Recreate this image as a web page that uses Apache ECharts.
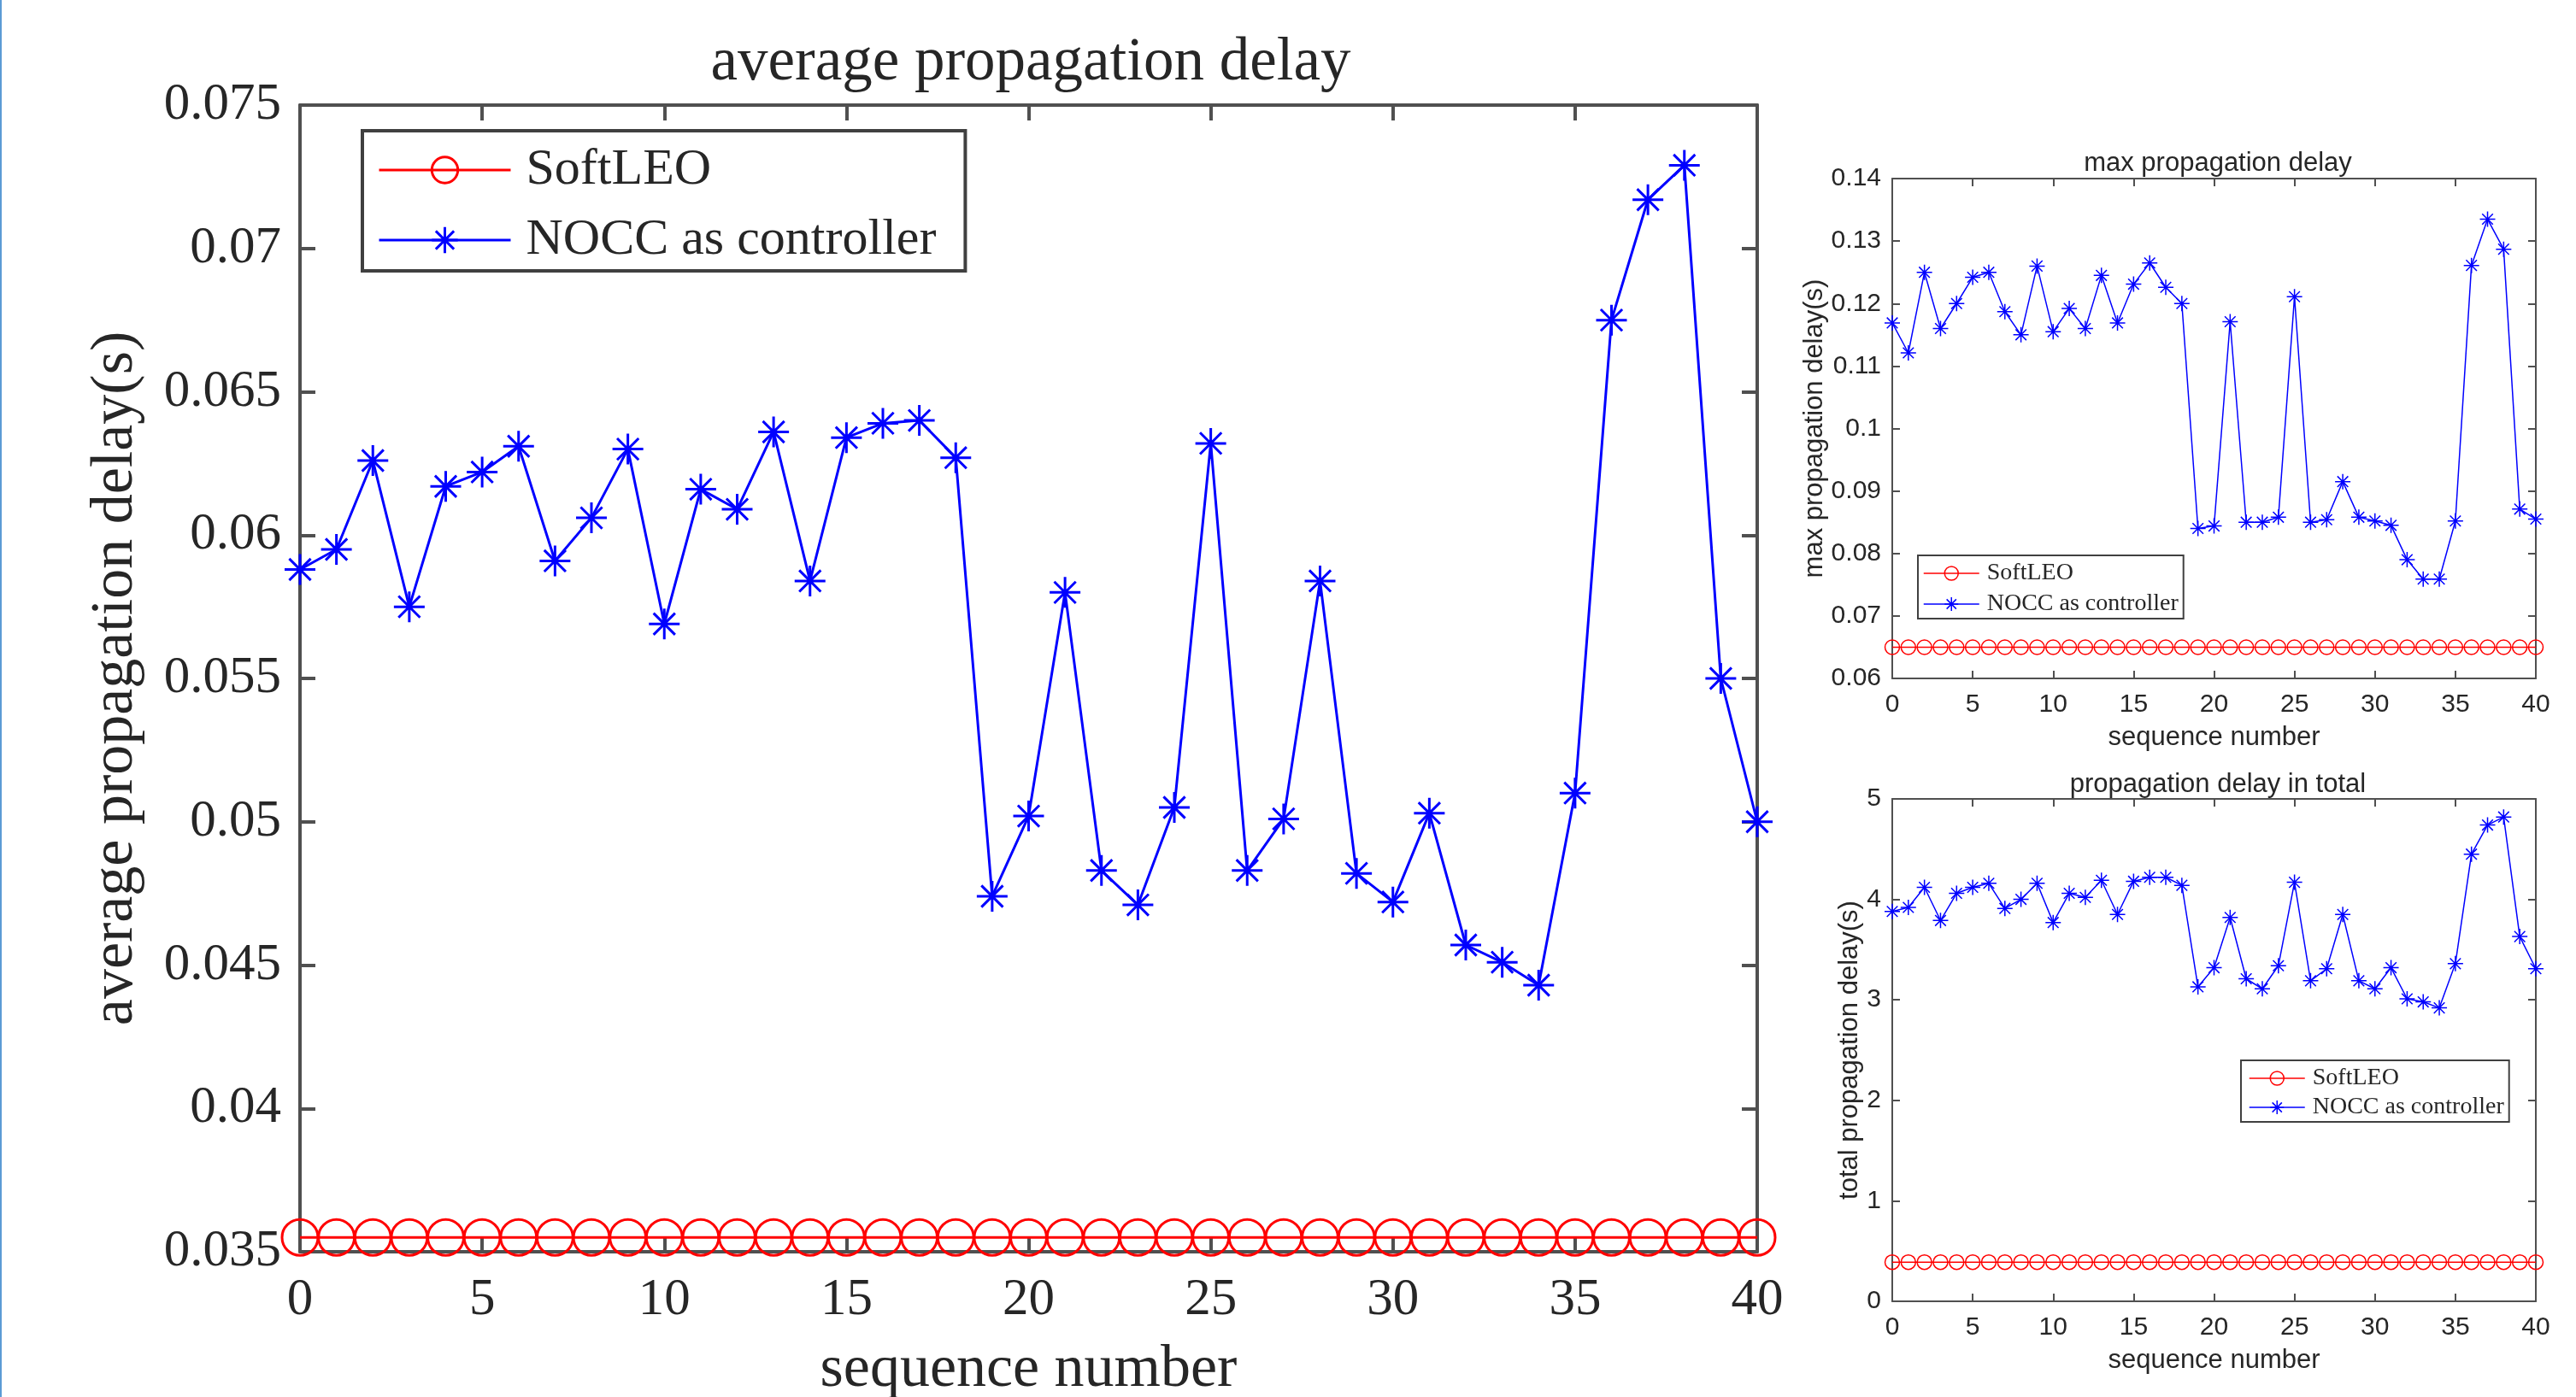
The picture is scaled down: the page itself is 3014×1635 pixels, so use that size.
<!DOCTYPE html>
<html>
<head>
<meta charset="utf-8">
<title>propagation delay</title>
<script src="https://cdn.jsdelivr.net/npm/echarts@6/dist/echarts.min.js"></script>
<style>
html, body { margin: 0; padding: 0; background: #fff; }
#main { position: absolute; left: 0; top: 0; width: 3014px; height: 1635px; }
#edge { position: absolute; left: 0; top: 0; width: 2px; height: 1635px; background: #5b9bd5; }
</style>
</head>
<body>
<div id="main"></div>
<div id="edge"></div>
<script>
// sequence numbers (x axis of all three plots)
var seq = [0, 1, 2, 3, 4, 5, 6, 7, 8, 9, 10, 11, 12, 13, 14, 15, 16, 17, 18, 19, 20,
  21, 22, 23, 24, 25, 26, 27, 28, 29, 30, 31, 32, 33, 34, 35, 36, 37, 38, 39, 40];

// average propagation delay (big plot)
var avgNocc = [0.0588, 0.0595, 0.0626, 0.0575, 0.0617, 0.0622, 0.0631, 0.0591, 0.0606, 0.0630,
  0.0569, 0.0616, 0.0609, 0.0636, 0.0584, 0.0634, 0.0639, 0.0640, 0.0627, 0.0474,
  0.0502, 0.0580, 0.0483, 0.0471, 0.0505, 0.0632, 0.0483, 0.0501, 0.0584, 0.0482,
  0.0472, 0.0503, 0.0457, 0.0451, 0.0443, 0.0510, 0.0675, 0.0717, 0.0729, 0.0550, 0.0500];
var avgSoft = [0.0355, 0.0355, 0.0355, 0.0355, 0.0355, 0.0355, 0.0355, 0.0355, 0.0355, 0.0355,
  0.0355, 0.0355, 0.0355, 0.0355, 0.0355, 0.0355, 0.0355, 0.0355, 0.0355, 0.0355,
  0.0355, 0.0355, 0.0355, 0.0355, 0.0355, 0.0355, 0.0355, 0.0355, 0.0355, 0.0355,
  0.0355, 0.0355, 0.0355, 0.0355, 0.0355, 0.0355, 0.0355, 0.0355, 0.0355, 0.0355, 0.0355];

// max propagation delay (top right)
var maxNocc = [0.1169, 0.1121, 0.1250, 0.1160, 0.1200, 0.1242, 0.1250, 0.1187, 0.1150, 0.1260,
  0.1155, 0.1192, 0.1160, 0.1245, 0.1169, 0.1231, 0.1265, 0.1226, 0.1200, 0.0840,
  0.0844, 0.1171, 0.0850, 0.0850, 0.0858, 0.1211, 0.0850, 0.0854, 0.0915, 0.0858,
  0.0852, 0.0845, 0.0790, 0.0759, 0.0759, 0.0852, 0.1261, 0.1335, 0.1287, 0.0871, 0.0855];
var maxSoft = [0.065, 0.065, 0.065, 0.065, 0.065, 0.065, 0.065, 0.065, 0.065, 0.065,
  0.065, 0.065, 0.065, 0.065, 0.065, 0.065, 0.065, 0.065, 0.065, 0.065,
  0.065, 0.065, 0.065, 0.065, 0.065, 0.065, 0.065, 0.065, 0.065, 0.065,
  0.065, 0.065, 0.065, 0.065, 0.065, 0.065, 0.065, 0.065, 0.065, 0.065, 0.065];

// propagation delay in total (bottom right)
var totalNocc = [3.88, 3.92, 4.12, 3.79, 4.06, 4.12, 4.16, 3.91, 4.00, 4.16,
  3.77, 4.06, 4.02, 4.19, 3.85, 4.18, 4.22, 4.22, 4.14, 3.13,
  3.32, 3.82, 3.21, 3.11, 3.34, 4.17, 3.19, 3.31, 3.85, 3.19,
  3.11, 3.32, 3.01, 2.98, 2.92, 3.36, 4.45, 4.74, 4.82, 3.63, 3.31];
var totalSoft = [0.39, 0.39, 0.39, 0.39, 0.39, 0.39, 0.39, 0.39, 0.39, 0.39,
  0.39, 0.39, 0.39, 0.39, 0.39, 0.39, 0.39, 0.39, 0.39, 0.39,
  0.39, 0.39, 0.39, 0.39, 0.39, 0.39, 0.39, 0.39, 0.39, 0.39,
  0.39, 0.39, 0.39, 0.39, 0.39, 0.39, 0.39, 0.39, 0.39, 0.39, 0.39];

var serif = 'Liberation Serif';
var sans = 'Liberation Sans';
var axisGray = '#505050';
var textGray = '#262626';
// matlab style '*' marker
var star = 'path://M0,50 L100,50 M50,0 L50,100 M15,15 L85,85 M85,15 L15,85';

function pairs(ys) {
  return seq.map(function (x, i) { return [x, ys[i]]; });
}
function numFmt(v) {
  return String(parseFloat(v.toFixed(4)));
}

// bottom + top x axes, left + right y axes for one boxed plot
function boxAxes(g, o) {
  var line = { show: true, onZero: false, lineStyle: { color: axisGray, width: o.lw } };
  var tick = { show: true, inside: true, length: o.tick, lineStyle: { color: axisGray, width: o.lw } };
  var x = {
    gridIndex: g, type: 'value', min: 0, max: 40, interval: 5,
    axisLine: line, axisTick: tick, splitLine: { show: false }
  };
  var y = {
    gridIndex: g, type: 'value', min: o.ymin, max: o.ymax, interval: o.yint,
    axisLine: line, axisTick: tick, splitLine: { show: false }
  };
  var xb = Object.assign({}, x, {
    position: 'bottom',
    axisLabel: { color: textGray, fontFamily: o.font, fontSize: o.tickSize, margin: o.xMargin },
    name: 'sequence number', nameLocation: 'middle', nameGap: o.xNameGap,
    nameTextStyle: { color: textGray, fontFamily: o.font, fontSize: o.nameSize }
  });
  var xt = Object.assign({}, x, { position: 'top', axisLabel: { show: false } });
  var yl = Object.assign({}, y, {
    position: 'left',
    axisLabel: { color: textGray, fontFamily: o.font, fontSize: o.tickSize, margin: o.yMargin, formatter: numFmt },
    name: o.yName, nameLocation: 'middle', nameGap: o.yNameGap,
    nameTextStyle: { color: textGray, fontFamily: o.font, fontSize: o.nameSize }
  });
  var yr = Object.assign({}, y, { position: 'right', axisLabel: { show: false } });
  return { x: [xb, xt], y: [yl, yr] };
}

var a0 = boxAxes(0, { lw: 4, tick: 18, font: serif, tickSize: 61, nameSize: 70, xMargin: 26, yMargin: 22,
  xNameGap: 104, yNameGap: 180, ymin: 0.035, ymax: 0.075, yint: 0.005, yName: 'average propagation delay(s)' });
var a1 = boxAxes(1, { lw: 2, tick: 9, font: sans, tickSize: 30, nameSize: 31, xMargin: 16, yMargin: 13,
  xNameGap: 54, yNameGap: 68, ymin: 0.06, ymax: 0.14, yint: 0.01, yName: 'max propagation delay(s)' });
var a2 = boxAxes(2, { lw: 2, tick: 9, font: sans, tickSize: 30, nameSize: 31, xMargin: 16, yMargin: 13,
  xNameGap: 54, yNameGap: 34, ymin: 0, ymax: 5, yint: 1, yName: 'total propagation delay(s)' });

function softSeries(g, data, size, lw) {
  return {
    name: 'SoftLEO', type: 'line', xAxisIndex: g * 2, yAxisIndex: g * 2, data: pairs(data),
    symbol: 'circle', symbolSize: size, z: 3,
    lineStyle: { color: '#ff0000', width: lw },
    itemStyle: { color: 'rgba(0,0,0,0)', borderColor: '#ff0000', borderWidth: lw }
  };
}
function noccSeries(g, data, size, lw) {
  return {
    name: 'NOCC as controller', type: 'line', xAxisIndex: g * 2, yAxisIndex: g * 2, data: pairs(data),
    symbol: star, symbolSize: size, symbolKeepAspect: true, z: 4,
    lineStyle: { color: '#0000ff', width: lw },
    itemStyle: { color: '#0000ff', borderColor: '#0000ff', borderWidth: lw }
  };
}

function legendItems(lw) {
  return [
    { name: 'SoftLEO', itemStyle: { borderWidth: lw }, lineStyle: { width: lw } },
    { name: 'NOCC as controller', itemStyle: { borderWidth: lw }, lineStyle: { width: lw } }
  ];
}

var myChart = echarts.init(document.getElementById('main'));
var option = {
  animation: false,
  backgroundColor: '#fff',
  title: [
    { text: 'average propagation delay', left: 1201, top: 34, textAlign: 'center',
      textStyle: { fontFamily: serif, fontSize: 71, fontWeight: 'normal', color: textGray } },
    { text: 'max propagation delay', left: 2590, top: 171, textAlign: 'center',
      textStyle: { fontFamily: sans, fontSize: 31, fontWeight: 'normal', color: textGray } },
    { text: 'propagation delay in total', left: 2590, top: 898, textAlign: 'center',
      textStyle: { fontFamily: sans, fontSize: 31, fontWeight: 'normal', color: textGray } }
  ],
  grid: [
    { left: 351, top: 123, width: 1705, height: 1342, outerBoundsMode: 'none' },
    { left: 2214, top: 209, width: 753, height: 585, outerBoundsMode: 'none' },
    { left: 2214, top: 935, width: 753, height: 588, outerBoundsMode: 'none' }
  ],
  xAxis: a0.x.concat(a1.x, a2.x),
  yAxis: a0.y.concat(a1.y, a2.y),
  legend: [
    { orient: 'vertical', left: 424, top: 153, padding: [16, 34, 6, 18], itemGap: 22,
      itemWidth: 154, itemHeight: 38, borderColor: '#404040', borderWidth: 4, backgroundColor: '#fff',
      textStyle: { fontFamily: serif, fontSize: 60, color: textGray, padding: [0, 0, 0, 13] },
      data: legendItems(3) },
    { orient: 'vertical', left: 2244, top: 650, padding: [7, 6, 3, 6], itemGap: 8,
      itemWidth: 65, itemHeight: 20, borderColor: '#404040', borderWidth: 2, backgroundColor: '#fff',
      textStyle: { fontFamily: serif, fontSize: 28, color: textGray, padding: [0, 0, 0, 4] },
      data: legendItems(1.5) },
    { orient: 'vertical', left: 2622, top: 1241, padding: [7, 6, 3, 9], itemGap: 6,
      itemWidth: 65, itemHeight: 20, borderColor: '#404040', borderWidth: 2, backgroundColor: '#fff',
      textStyle: { fontFamily: serif, fontSize: 28, color: textGray, padding: [0, 0, 0, 4] },
      data: legendItems(1.5) }
  ],
  series: [
    softSeries(0, avgSoft, 42, 3),
    noccSeries(0, avgNocc, 36, 3),
    softSeries(1, maxSoft, 17, 1.5),
    noccSeries(1, maxNocc, 18, 1.5),
    softSeries(2, totalSoft, 17, 1.5),
    noccSeries(2, totalNocc, 18, 1.5)
  ]
};
myChart.setOption(option);
</script>
</body>
</html>
